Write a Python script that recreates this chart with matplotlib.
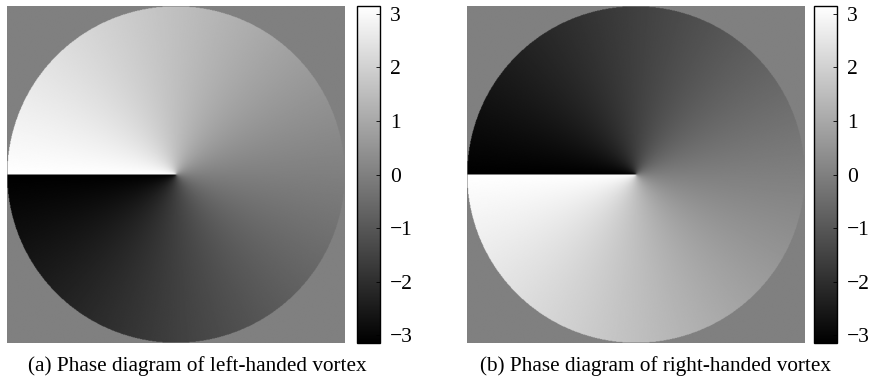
import numpy as np
import matplotlib
matplotlib.use("Agg")
import matplotlib.pyplot as plt

plt.rcParams.update({
    "font.family": ["Liberation Serif", "DejaVu Serif"],
    "axes.unicode_minus": True,
})

# vortex setup
N_GRID = 600
RADIUS = 1.0
CHARGES = [1, -1]                # left-handed, right-handed
CAPTIONS = ["(a) Phase diagram of left-handed vortex",
            "(b) Phase diagram of right-handed vortex"]
CBAR_TICKS = [-3, -2, -1, 0, 1, 2, 3]

W, H = 869, 380
fig = plt.figure(figsize=(W / 100, H / 100), dpi=100)


def box(x0, x1, y0, y1):
    # pixel box -> figure fraction
    return [x0 / W, 1 - y1 / H, (x1 - x0) / W, (y1 - y0) / H]


img_boxes = [box(7, 345, 6, 343), box(467, 805, 6, 343)]
cb_boxes = [box(357, 380, 6, 343), box(814, 837, 6, 343)]
cap_x = [197, 656]

xs = np.linspace(-RADIUS, RADIUS, N_GRID)
X, Y = np.meshgrid(xs, xs[::-1])
inside = X ** 2 + Y ** 2 <= RADIUS ** 2

for charge, caption, ib, cb, cx in zip(CHARGES, CAPTIONS, img_boxes, cb_boxes, cap_x):
    phase = np.where(inside, charge * np.arctan2(Y, X), 0.0)
    ax = fig.add_axes(ib)
    im = ax.imshow(phase, cmap="gray", vmin=-np.pi, vmax=np.pi,
                   aspect="auto", interpolation="antialiased")
    ax.set_axis_off()

    cax = fig.add_axes(cb)
    cbar = fig.colorbar(im, cax=cax, ticks=CBAR_TICKS)
    cbar.outline.set_linewidth(1.0)
    cbar.outline.set_edgecolor("black")
    cax.tick_params(direction="in", length=3, width=0.6, pad=7,
                    labelsize=15.5, colors="black")

    fig.text(cx / W, 1 - 371 / H, caption, ha="center", va="baseline",
             fontsize=15.3)

fig.savefig("out.png", dpi=100, facecolor="white")
